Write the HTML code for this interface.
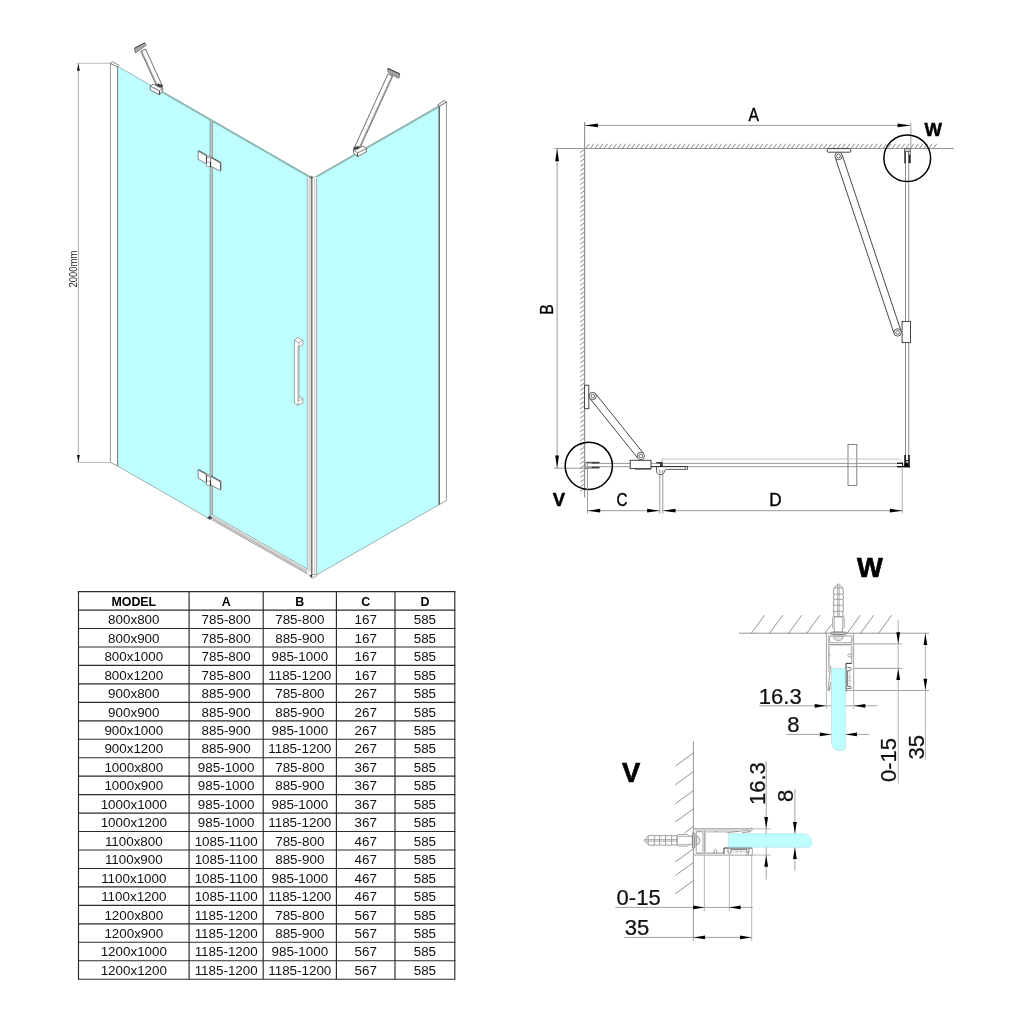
<!DOCTYPE html>
<html>
<head>
<meta charset="utf-8">
<title>Shower enclosure technical drawing</title>
<style>
html,body{margin:0;padding:0;background:#fff;}
body{width:1024px;height:1024px;overflow:hidden;font-family:"Liberation Sans",sans-serif;}
svg{display:block;will-change:transform;font-family:"Liberation Sans",sans-serif;}
</style>
</head>
<body>
<svg width="1024" height="1024" viewBox="0 0 1024 1024">
<rect x="0" y="0" width="1024" height="1024" fill="#ffffff"/>
<g id="iso">
<line x1="76.50" y1="63.30" x2="110.40" y2="63.30" stroke="#bcbcbc" stroke-width="1.1" />
<line x1="76.50" y1="462.50" x2="110.40" y2="462.50" stroke="#bcbcbc" stroke-width="1.1" />
<line x1="78.40" y1="63.30" x2="78.40" y2="462.50" stroke="#b4b4b4" stroke-width="1.1" />
<polygon points="78.40,63.60 79.85,70.80 76.95,70.80" fill="#111" stroke="none" stroke-width="0" />
<polygon points="78.40,462.20 76.95,455.00 79.85,455.00" fill="#111" stroke="none" stroke-width="0" />
<text x="0.00" y="0.00" font-size="10.9" font-weight="normal" text-anchor="start" fill="#222" transform="translate(76.80 287.40) rotate(-90) scale(0.865 1)" >2000mm</text>
<polygon points="110.40,63.40 117.60,66.90 117.60,466.00 110.40,462.50" fill="#fff" stroke="#8c8c8c" stroke-width="0.9" />
<polygon points="110.40,63.40 112.40,61.60 118.80,65.30 117.60,66.90" fill="#fff" stroke="#6a6a6a" stroke-width="0.8" />
<polygon points="117.60,66.30 307.20,175.40 307.20,569.00 211.60,514.63 211.60,520.09 117.60,466.00" fill="#bffefe" stroke="none" stroke-width="0" />
<polygon points="316.60,176.60 439.30,106.20 439.30,504.50 316.60,574.90" fill="#bffefe" stroke="none" stroke-width="0" />
<line x1="117.60" y1="66.30" x2="117.60" y2="466.00" stroke="#6f8d8d" stroke-width="1.1" />
<line x1="117.60" y1="66.30" x2="151.00" y2="85.52" stroke="#8fa5a5" stroke-width="0.8" />
<line x1="162.00" y1="92.05" x2="310.20" y2="177.32" stroke="#92c2be" stroke-width="1.9" />
<line x1="162.00" y1="91.25" x2="310.20" y2="176.52" stroke="#8a9c9c" stroke-width="0.6" />
<line x1="313.60" y1="178.52" x2="439.30" y2="106.40" stroke="#92c2be" stroke-width="1.9" />
<line x1="313.60" y1="177.72" x2="439.30" y2="105.60" stroke="#8a9c9c" stroke-width="0.6" />
<line x1="117.60" y1="466.00" x2="209.90" y2="519.11" stroke="#8aa0a0" stroke-width="0.8" />
<line x1="316.60" y1="574.90" x2="439.30" y2="504.50" stroke="#8aa0a0" stroke-width="0.8" />
<line x1="439.30" y1="106.20" x2="439.30" y2="504.50" stroke="#5f6c6c" stroke-width="1.0" />
<rect x="209.90" y="120.16" width="2.70" height="395.44" fill="#c4cccc" stroke="none" stroke-width="0" />
<line x1="210.10" y1="119.52" x2="210.10" y2="517.00" stroke="#7f9393" stroke-width="0.8" />
<line x1="212.40" y1="120.85" x2="212.40" y2="515.40" stroke="#7f9393" stroke-width="0.8" />
<polygon points="211.60,514.63 307.60,569.23 310.60,575.83 211.60,519.53" fill="#fff" stroke="none" stroke-width="0" />
<line x1="211.60" y1="514.63" x2="307.60" y2="569.23" stroke="#6f8f8f" stroke-width="0.8" />
<line x1="211.60" y1="515.53" x2="308.09" y2="570.41" stroke="#ececec" stroke-width="1.0" />
<line x1="211.60" y1="516.43" x2="308.59" y2="571.59" stroke="#a8a8a8" stroke-width="0.8" />
<line x1="211.60" y1="517.23" x2="309.03" y2="572.64" stroke="#e0e0e0" stroke-width="0.8" />
<line x1="211.60" y1="518.03" x2="309.47" y2="573.69" stroke="#8a8a8a" stroke-width="0.9" />
<line x1="211.60" y1="518.83" x2="309.91" y2="574.74" stroke="#d8d8d8" stroke-width="0.7" />
<line x1="211.60" y1="519.53" x2="310.29" y2="575.66" stroke="#8a8a8a" stroke-width="0.8" />
<polygon points="207.40,517.60 209.60,516.00 211.80,517.20 211.60,518.60 209.40,519.60" fill="#444" stroke="#666" stroke-width="0.5" />
<rect x="307.20" y="177.30" width="9.60" height="397.30" fill="#fff" stroke="none" stroke-width="0" />
<rect x="307.20" y="177.30" width="3.90" height="394.20" fill="#dedede" stroke="none" stroke-width="0" />
<line x1="307.20" y1="177.30" x2="307.20" y2="569.50" stroke="#a8a8a8" stroke-width="0.7" />
<line x1="311.75" y1="177.30" x2="311.75" y2="576.00" stroke="#787878" stroke-width="1.6" />
<line x1="314.60" y1="177.80" x2="314.60" y2="575.40" stroke="#c4c4c4" stroke-width="0.9" />
<line x1="316.60" y1="178.30" x2="316.60" y2="574.20" stroke="#8fa0a0" stroke-width="0.9" />
<polygon points="309.60,177.20 311.40,176.20 313.20,177.20 311.40,178.40" fill="#666" stroke="#555" stroke-width="0.5" />
<polygon points="309.90,576.00 312.20,574.60 317.00,574.40 317.00,575.60 312.20,578.80" fill="#f4f4f4" stroke="#777" stroke-width="0.6" />
<polygon points="309.90,575.40 311.80,574.60 312.60,576.60 311.00,577.40" fill="#333" stroke="none" stroke-width="0" />
<polygon points="439.30,106.20 446.40,102.00 446.40,500.60 439.30,504.50" fill="#fff" stroke="#8c8c8c" stroke-width="0.9" />
<polygon points="437.70,105.00 444.20,100.40 446.40,102.00 439.30,106.20" fill="#fff" stroke="#5f5f5f" stroke-width="0.85" />
<line x1="439.30" y1="106.20" x2="439.30" y2="504.50" stroke="#565e5e" stroke-width="1.1" />
<polygon points="198.20,151.20 206.40,155.90 206.40,164.00 198.20,159.30" fill="#fff" stroke="#6a6a6a" stroke-width="0.8" />
<polyline points="198.00,151.60 198.90,150.70 207.20,155.40" fill="none" stroke="#555" stroke-width="0.9" />
<polygon points="210.60,157.60 220.40,163.00 220.40,171.20 210.60,166.20" fill="#fff" stroke="#6a6a6a" stroke-width="0.8" />
<polyline points="210.80,157.00 220.80,162.40 220.80,170.40" fill="none" stroke="#555" stroke-width="1.0" />
<polygon points="206.40,156.60 210.40,157.80 210.40,166.90 206.40,166.20" fill="#fff" stroke="#777" stroke-width="0.7" />
<polygon points="206.40,156.40 207.80,155.40 211.60,156.90 210.40,157.90" fill="#e2e2e2" stroke="#777" stroke-width="0.6" />
<polyline points="206.40,162.20 210.40,162.40" fill="none" stroke="#888" stroke-width="0.6" />
<polyline points="206.50,156.40 206.50,163.00" fill="none" stroke="#444" stroke-width="1.0" />
<polyline points="210.50,161.60 210.50,167.00" fill="none" stroke="#333" stroke-width="1.1" />
<polygon points="198.20,470.00 206.40,474.70 206.40,482.80 198.20,478.10" fill="#fff" stroke="#6a6a6a" stroke-width="0.8" />
<polyline points="198.00,470.40 198.90,469.50 207.20,474.20" fill="none" stroke="#555" stroke-width="0.9" />
<polygon points="210.60,476.40 220.40,481.80 220.40,490.00 210.60,485.00" fill="#fff" stroke="#6a6a6a" stroke-width="0.8" />
<polyline points="210.80,475.80 220.80,481.20 220.80,489.20" fill="none" stroke="#555" stroke-width="1.0" />
<polygon points="206.40,475.40 210.40,476.60 210.40,485.70 206.40,485.00" fill="#fff" stroke="#777" stroke-width="0.7" />
<polygon points="206.40,475.20 207.80,474.20 211.60,475.70 210.40,476.70" fill="#e2e2e2" stroke="#777" stroke-width="0.6" />
<polyline points="206.40,481.00 210.40,481.20" fill="none" stroke="#888" stroke-width="0.6" />
<polyline points="206.50,475.20 206.50,481.80" fill="none" stroke="#444" stroke-width="1.0" />
<polyline points="210.50,480.40 210.50,485.80" fill="none" stroke="#333" stroke-width="1.1" />
<polygon points="294.40,340.30 297.60,337.60 302.90,340.20 302.90,344.80 299.00,346.70 299.00,396.80 302.90,398.40 302.90,402.60 298.00,405.30 294.40,403.00" fill="#fff" stroke="#8a8a8a" stroke-width="0.8" />
<polyline points="294.40,340.30 299.00,342.60 302.90,340.20" fill="none" stroke="#8a8a8a" stroke-width="0.7" />
<line x1="299.00" y1="342.60" x2="299.00" y2="346.70" stroke="#8a8a8a" stroke-width="0.7" />
<line x1="298.00" y1="346.00" x2="298.00" y2="405.30" stroke="#9a9a9a" stroke-width="0.8" />
<line x1="299.00" y1="396.80" x2="299.00" y2="401.00" stroke="#8a8a8a" stroke-width="0.6" />
<polyline points="299.00,401.00 302.90,398.90" fill="none" stroke="#8a8a8a" stroke-width="0.6" />
<polygon points="161.97,85.12 145.57,49.12 140.83,51.28 157.23,87.28" fill="#fff" stroke="#4a4a4a" stroke-width="0.8" />
<line x1="158.05" y1="86.90" x2="141.65" y2="50.90" stroke="#7a7a7a" stroke-width="0.7" />
<polygon points="134.40,48.30 144.80,42.90 146.00,45.40 135.40,52.80" fill="#c2c2c2" stroke="#666" stroke-width="0.8" />
<line x1="134.80" y1="48.60" x2="135.60" y2="52.20" stroke="#5a5a5a" stroke-width="0.55" />
<line x1="136.80" y1="47.55" x2="137.60" y2="50.85" stroke="#5a5a5a" stroke-width="0.55" />
<line x1="138.80" y1="46.50" x2="139.60" y2="49.50" stroke="#5a5a5a" stroke-width="0.55" />
<line x1="140.80" y1="45.45" x2="141.60" y2="48.15" stroke="#5a5a5a" stroke-width="0.55" />
<line x1="142.80" y1="44.40" x2="143.60" y2="46.80" stroke="#5a5a5a" stroke-width="0.55" />
<line x1="144.80" y1="43.35" x2="145.60" y2="45.45" stroke="#5a5a5a" stroke-width="0.55" />
<line x1="134.40" y1="48.30" x2="144.80" y2="42.90" stroke="#333" stroke-width="0.9" />
<polygon points="150.25,85.90 153.00,84.10 162.70,88.70 162.70,90.60 159.50,94.80 150.25,90.00" fill="#fff" stroke="#555" stroke-width="0.8" />
<polyline points="150.25,85.90 159.50,90.70 162.70,88.70" fill="none" stroke="#555" stroke-width="0.75" />
<line x1="159.50" y1="90.70" x2="159.50" y2="94.80" stroke="#444" stroke-width="1.0" />
<line x1="151.60" y1="87.50" x2="158.90" y2="91.30" stroke="#999" stroke-width="0.5" />
<polygon points="156.20,84.30 158.40,83.70 162.80,85.20 162.60,87.60 158.00,86.40" fill="#444" stroke="#444" stroke-width="0.4" />
<polygon points="359.37,149.28 392.77,76.08 388.03,73.92 354.63,147.12" fill="#fff" stroke="#4a4a4a" stroke-width="0.8" />
<line x1="358.55" y1="148.91" x2="391.95" y2="75.71" stroke="#7a7a7a" stroke-width="0.7" />
<polygon points="387.80,68.30 399.60,73.80 399.40,77.00 398.00,78.20 388.20,72.20" fill="#c2c2c2" stroke="#666" stroke-width="0.8" />
<line x1="388.60" y1="68.90" x2="388.90" y2="72.40" stroke="#5a5a5a" stroke-width="0.55" />
<line x1="390.60" y1="69.85" x2="390.90" y2="73.60" stroke="#5a5a5a" stroke-width="0.55" />
<line x1="392.60" y1="70.80" x2="392.90" y2="74.80" stroke="#5a5a5a" stroke-width="0.55" />
<line x1="394.60" y1="71.75" x2="394.90" y2="76.00" stroke="#5a5a5a" stroke-width="0.55" />
<line x1="396.60" y1="72.70" x2="396.90" y2="77.20" stroke="#5a5a5a" stroke-width="0.55" />
<line x1="398.60" y1="73.65" x2="398.90" y2="78.40" stroke="#5a5a5a" stroke-width="0.55" />
<line x1="387.80" y1="68.30" x2="399.60" y2="73.80" stroke="#333" stroke-width="0.9" />
<polygon points="353.50,150.00 362.80,146.10 366.40,148.50 366.40,151.70 357.60,156.70 353.50,152.80" fill="#fff" stroke="#555" stroke-width="0.8" />
<polyline points="353.50,150.00 357.60,152.80 366.40,148.50" fill="none" stroke="#555" stroke-width="0.75" />
<line x1="357.40" y1="152.80" x2="357.40" y2="156.70" stroke="#444" stroke-width="1.0" />
<line x1="358.40" y1="152.90" x2="365.60" y2="149.50" stroke="#999" stroke-width="0.5" />
<polygon points="353.50,147.60 358.20,146.20 359.90,147.20 358.20,148.90 353.70,149.80" fill="#444" stroke="#444" stroke-width="0.4" />
</g>
<g id="tbl">
<line x1="77.95" y1="591.60" x2="455.35" y2="591.60" stroke="#2b2b2b" stroke-width="1.15" />
<line x1="77.95" y1="610.06" x2="455.35" y2="610.06" stroke="#2b2b2b" stroke-width="1.15" />
<line x1="77.95" y1="628.51" x2="455.35" y2="628.51" stroke="#2b2b2b" stroke-width="1.15" />
<line x1="77.95" y1="646.97" x2="455.35" y2="646.97" stroke="#2b2b2b" stroke-width="1.15" />
<line x1="77.95" y1="665.43" x2="455.35" y2="665.43" stroke="#2b2b2b" stroke-width="1.15" />
<line x1="77.95" y1="683.89" x2="455.35" y2="683.89" stroke="#2b2b2b" stroke-width="1.15" />
<line x1="77.95" y1="702.34" x2="455.35" y2="702.34" stroke="#2b2b2b" stroke-width="1.15" />
<line x1="77.95" y1="720.80" x2="455.35" y2="720.80" stroke="#2b2b2b" stroke-width="1.15" />
<line x1="77.95" y1="739.26" x2="455.35" y2="739.26" stroke="#2b2b2b" stroke-width="1.15" />
<line x1="77.95" y1="757.71" x2="455.35" y2="757.71" stroke="#2b2b2b" stroke-width="1.15" />
<line x1="77.95" y1="776.17" x2="455.35" y2="776.17" stroke="#2b2b2b" stroke-width="1.15" />
<line x1="77.95" y1="794.63" x2="455.35" y2="794.63" stroke="#2b2b2b" stroke-width="1.15" />
<line x1="77.95" y1="813.09" x2="455.35" y2="813.09" stroke="#2b2b2b" stroke-width="1.15" />
<line x1="77.95" y1="831.54" x2="455.35" y2="831.54" stroke="#2b2b2b" stroke-width="1.15" />
<line x1="77.95" y1="850.00" x2="455.35" y2="850.00" stroke="#2b2b2b" stroke-width="1.15" />
<line x1="77.95" y1="868.46" x2="455.35" y2="868.46" stroke="#2b2b2b" stroke-width="1.15" />
<line x1="77.95" y1="886.91" x2="455.35" y2="886.91" stroke="#2b2b2b" stroke-width="1.15" />
<line x1="77.95" y1="905.37" x2="455.35" y2="905.37" stroke="#2b2b2b" stroke-width="1.15" />
<line x1="77.95" y1="923.83" x2="455.35" y2="923.83" stroke="#2b2b2b" stroke-width="1.15" />
<line x1="77.95" y1="942.29" x2="455.35" y2="942.29" stroke="#2b2b2b" stroke-width="1.15" />
<line x1="77.95" y1="960.74" x2="455.35" y2="960.74" stroke="#2b2b2b" stroke-width="1.15" />
<line x1="77.95" y1="979.20" x2="455.35" y2="979.20" stroke="#2b2b2b" stroke-width="1.15" />
<line x1="78.50" y1="591.60" x2="78.50" y2="979.20" stroke="#2b2b2b" stroke-width="1.15" />
<line x1="189.10" y1="591.60" x2="189.10" y2="979.20" stroke="#2b2b2b" stroke-width="1.15" />
<line x1="263.20" y1="591.60" x2="263.20" y2="979.20" stroke="#2b2b2b" stroke-width="1.15" />
<line x1="336.40" y1="591.60" x2="336.40" y2="979.20" stroke="#2b2b2b" stroke-width="1.15" />
<line x1="395.00" y1="591.60" x2="395.00" y2="979.20" stroke="#2b2b2b" stroke-width="1.15" />
<line x1="454.80" y1="591.60" x2="454.80" y2="979.20" stroke="#2b2b2b" stroke-width="1.15" />
<text x="133.80" y="606.13" font-size="12.4" font-weight="bold" text-anchor="middle" fill="#000" >MODEL</text>
<text x="226.15" y="606.13" font-size="12.4" font-weight="bold" text-anchor="middle" fill="#000" >A</text>
<text x="299.80" y="606.13" font-size="12.4" font-weight="bold" text-anchor="middle" fill="#000" >B</text>
<text x="365.70" y="606.13" font-size="12.4" font-weight="bold" text-anchor="middle" fill="#000" >C</text>
<text x="424.90" y="606.13" font-size="12.4" font-weight="bold" text-anchor="middle" fill="#000" >D</text>
<text x="133.80" y="624.24" font-size="13.4" font-weight="normal" text-anchor="middle" fill="#111" >800x800</text>
<text x="226.15" y="624.24" font-size="13.4" font-weight="normal" text-anchor="middle" fill="#111" >785-800</text>
<text x="299.80" y="624.24" font-size="13.4" font-weight="normal" text-anchor="middle" fill="#111" >785-800</text>
<text x="365.70" y="624.24" font-size="13.4" font-weight="normal" text-anchor="middle" fill="#111" >167</text>
<text x="424.90" y="624.24" font-size="13.4" font-weight="normal" text-anchor="middle" fill="#111" >585</text>
<text x="133.80" y="642.69" font-size="13.4" font-weight="normal" text-anchor="middle" fill="#111" >800x900</text>
<text x="226.15" y="642.69" font-size="13.4" font-weight="normal" text-anchor="middle" fill="#111" >785-800</text>
<text x="299.80" y="642.69" font-size="13.4" font-weight="normal" text-anchor="middle" fill="#111" >885-900</text>
<text x="365.70" y="642.69" font-size="13.4" font-weight="normal" text-anchor="middle" fill="#111" >167</text>
<text x="424.90" y="642.69" font-size="13.4" font-weight="normal" text-anchor="middle" fill="#111" >585</text>
<text x="133.80" y="661.15" font-size="13.4" font-weight="normal" text-anchor="middle" fill="#111" >800x1000</text>
<text x="226.15" y="661.15" font-size="13.4" font-weight="normal" text-anchor="middle" fill="#111" >785-800</text>
<text x="299.80" y="661.15" font-size="13.4" font-weight="normal" text-anchor="middle" fill="#111" >985-1000</text>
<text x="365.70" y="661.15" font-size="13.4" font-weight="normal" text-anchor="middle" fill="#111" >167</text>
<text x="424.90" y="661.15" font-size="13.4" font-weight="normal" text-anchor="middle" fill="#111" >585</text>
<text x="133.80" y="679.61" font-size="13.4" font-weight="normal" text-anchor="middle" fill="#111" >800x1200</text>
<text x="226.15" y="679.61" font-size="13.4" font-weight="normal" text-anchor="middle" fill="#111" >785-800</text>
<text x="299.80" y="679.61" font-size="13.4" font-weight="normal" text-anchor="middle" fill="#111" >1185-1200</text>
<text x="365.70" y="679.61" font-size="13.4" font-weight="normal" text-anchor="middle" fill="#111" >167</text>
<text x="424.90" y="679.61" font-size="13.4" font-weight="normal" text-anchor="middle" fill="#111" >585</text>
<text x="133.80" y="698.06" font-size="13.4" font-weight="normal" text-anchor="middle" fill="#111" >900x800</text>
<text x="226.15" y="698.06" font-size="13.4" font-weight="normal" text-anchor="middle" fill="#111" >885-900</text>
<text x="299.80" y="698.06" font-size="13.4" font-weight="normal" text-anchor="middle" fill="#111" >785-800</text>
<text x="365.70" y="698.06" font-size="13.4" font-weight="normal" text-anchor="middle" fill="#111" >267</text>
<text x="424.90" y="698.06" font-size="13.4" font-weight="normal" text-anchor="middle" fill="#111" >585</text>
<text x="133.80" y="716.52" font-size="13.4" font-weight="normal" text-anchor="middle" fill="#111" >900x900</text>
<text x="226.15" y="716.52" font-size="13.4" font-weight="normal" text-anchor="middle" fill="#111" >885-900</text>
<text x="299.80" y="716.52" font-size="13.4" font-weight="normal" text-anchor="middle" fill="#111" >885-900</text>
<text x="365.70" y="716.52" font-size="13.4" font-weight="normal" text-anchor="middle" fill="#111" >267</text>
<text x="424.90" y="716.52" font-size="13.4" font-weight="normal" text-anchor="middle" fill="#111" >585</text>
<text x="133.80" y="734.98" font-size="13.4" font-weight="normal" text-anchor="middle" fill="#111" >900x1000</text>
<text x="226.15" y="734.98" font-size="13.4" font-weight="normal" text-anchor="middle" fill="#111" >885-900</text>
<text x="299.80" y="734.98" font-size="13.4" font-weight="normal" text-anchor="middle" fill="#111" >985-1000</text>
<text x="365.70" y="734.98" font-size="13.4" font-weight="normal" text-anchor="middle" fill="#111" >267</text>
<text x="424.90" y="734.98" font-size="13.4" font-weight="normal" text-anchor="middle" fill="#111" >585</text>
<text x="133.80" y="753.44" font-size="13.4" font-weight="normal" text-anchor="middle" fill="#111" >900x1200</text>
<text x="226.15" y="753.44" font-size="13.4" font-weight="normal" text-anchor="middle" fill="#111" >885-900</text>
<text x="299.80" y="753.44" font-size="13.4" font-weight="normal" text-anchor="middle" fill="#111" >1185-1200</text>
<text x="365.70" y="753.44" font-size="13.4" font-weight="normal" text-anchor="middle" fill="#111" >267</text>
<text x="424.90" y="753.44" font-size="13.4" font-weight="normal" text-anchor="middle" fill="#111" >585</text>
<text x="133.80" y="771.89" font-size="13.4" font-weight="normal" text-anchor="middle" fill="#111" >1000x800</text>
<text x="226.15" y="771.89" font-size="13.4" font-weight="normal" text-anchor="middle" fill="#111" >985-1000</text>
<text x="299.80" y="771.89" font-size="13.4" font-weight="normal" text-anchor="middle" fill="#111" >785-800</text>
<text x="365.70" y="771.89" font-size="13.4" font-weight="normal" text-anchor="middle" fill="#111" >367</text>
<text x="424.90" y="771.89" font-size="13.4" font-weight="normal" text-anchor="middle" fill="#111" >585</text>
<text x="133.80" y="790.35" font-size="13.4" font-weight="normal" text-anchor="middle" fill="#111" >1000x900</text>
<text x="226.15" y="790.35" font-size="13.4" font-weight="normal" text-anchor="middle" fill="#111" >985-1000</text>
<text x="299.80" y="790.35" font-size="13.4" font-weight="normal" text-anchor="middle" fill="#111" >885-900</text>
<text x="365.70" y="790.35" font-size="13.4" font-weight="normal" text-anchor="middle" fill="#111" >367</text>
<text x="424.90" y="790.35" font-size="13.4" font-weight="normal" text-anchor="middle" fill="#111" >585</text>
<text x="133.80" y="808.81" font-size="13.4" font-weight="normal" text-anchor="middle" fill="#111" >1000x1000</text>
<text x="226.15" y="808.81" font-size="13.4" font-weight="normal" text-anchor="middle" fill="#111" >985-1000</text>
<text x="299.80" y="808.81" font-size="13.4" font-weight="normal" text-anchor="middle" fill="#111" >985-1000</text>
<text x="365.70" y="808.81" font-size="13.4" font-weight="normal" text-anchor="middle" fill="#111" >367</text>
<text x="424.90" y="808.81" font-size="13.4" font-weight="normal" text-anchor="middle" fill="#111" >585</text>
<text x="133.80" y="827.26" font-size="13.4" font-weight="normal" text-anchor="middle" fill="#111" >1000x1200</text>
<text x="226.15" y="827.26" font-size="13.4" font-weight="normal" text-anchor="middle" fill="#111" >985-1000</text>
<text x="299.80" y="827.26" font-size="13.4" font-weight="normal" text-anchor="middle" fill="#111" >1185-1200</text>
<text x="365.70" y="827.26" font-size="13.4" font-weight="normal" text-anchor="middle" fill="#111" >367</text>
<text x="424.90" y="827.26" font-size="13.4" font-weight="normal" text-anchor="middle" fill="#111" >585</text>
<text x="133.80" y="845.72" font-size="13.4" font-weight="normal" text-anchor="middle" fill="#111" >1100x800</text>
<text x="226.15" y="845.72" font-size="13.4" font-weight="normal" text-anchor="middle" fill="#111" >1085-1100</text>
<text x="299.80" y="845.72" font-size="13.4" font-weight="normal" text-anchor="middle" fill="#111" >785-800</text>
<text x="365.70" y="845.72" font-size="13.4" font-weight="normal" text-anchor="middle" fill="#111" >467</text>
<text x="424.90" y="845.72" font-size="13.4" font-weight="normal" text-anchor="middle" fill="#111" >585</text>
<text x="133.80" y="864.18" font-size="13.4" font-weight="normal" text-anchor="middle" fill="#111" >1100x900</text>
<text x="226.15" y="864.18" font-size="13.4" font-weight="normal" text-anchor="middle" fill="#111" >1085-1100</text>
<text x="299.80" y="864.18" font-size="13.4" font-weight="normal" text-anchor="middle" fill="#111" >885-900</text>
<text x="365.70" y="864.18" font-size="13.4" font-weight="normal" text-anchor="middle" fill="#111" >467</text>
<text x="424.90" y="864.18" font-size="13.4" font-weight="normal" text-anchor="middle" fill="#111" >585</text>
<text x="133.80" y="882.64" font-size="13.4" font-weight="normal" text-anchor="middle" fill="#111" >1100x1000</text>
<text x="226.15" y="882.64" font-size="13.4" font-weight="normal" text-anchor="middle" fill="#111" >1085-1100</text>
<text x="299.80" y="882.64" font-size="13.4" font-weight="normal" text-anchor="middle" fill="#111" >985-1000</text>
<text x="365.70" y="882.64" font-size="13.4" font-weight="normal" text-anchor="middle" fill="#111" >467</text>
<text x="424.90" y="882.64" font-size="13.4" font-weight="normal" text-anchor="middle" fill="#111" >585</text>
<text x="133.80" y="901.09" font-size="13.4" font-weight="normal" text-anchor="middle" fill="#111" >1100x1200</text>
<text x="226.15" y="901.09" font-size="13.4" font-weight="normal" text-anchor="middle" fill="#111" >1085-1100</text>
<text x="299.80" y="901.09" font-size="13.4" font-weight="normal" text-anchor="middle" fill="#111" >1185-1200</text>
<text x="365.70" y="901.09" font-size="13.4" font-weight="normal" text-anchor="middle" fill="#111" >467</text>
<text x="424.90" y="901.09" font-size="13.4" font-weight="normal" text-anchor="middle" fill="#111" >585</text>
<text x="133.80" y="919.55" font-size="13.4" font-weight="normal" text-anchor="middle" fill="#111" >1200x800</text>
<text x="226.15" y="919.55" font-size="13.4" font-weight="normal" text-anchor="middle" fill="#111" >1185-1200</text>
<text x="299.80" y="919.55" font-size="13.4" font-weight="normal" text-anchor="middle" fill="#111" >785-800</text>
<text x="365.70" y="919.55" font-size="13.4" font-weight="normal" text-anchor="middle" fill="#111" >567</text>
<text x="424.90" y="919.55" font-size="13.4" font-weight="normal" text-anchor="middle" fill="#111" >585</text>
<text x="133.80" y="938.01" font-size="13.4" font-weight="normal" text-anchor="middle" fill="#111" >1200x900</text>
<text x="226.15" y="938.01" font-size="13.4" font-weight="normal" text-anchor="middle" fill="#111" >1185-1200</text>
<text x="299.80" y="938.01" font-size="13.4" font-weight="normal" text-anchor="middle" fill="#111" >885-900</text>
<text x="365.70" y="938.01" font-size="13.4" font-weight="normal" text-anchor="middle" fill="#111" >567</text>
<text x="424.90" y="938.01" font-size="13.4" font-weight="normal" text-anchor="middle" fill="#111" >585</text>
<text x="133.80" y="956.46" font-size="13.4" font-weight="normal" text-anchor="middle" fill="#111" >1200x1000</text>
<text x="226.15" y="956.46" font-size="13.4" font-weight="normal" text-anchor="middle" fill="#111" >1185-1200</text>
<text x="299.80" y="956.46" font-size="13.4" font-weight="normal" text-anchor="middle" fill="#111" >985-1000</text>
<text x="365.70" y="956.46" font-size="13.4" font-weight="normal" text-anchor="middle" fill="#111" >567</text>
<text x="424.90" y="956.46" font-size="13.4" font-weight="normal" text-anchor="middle" fill="#111" >585</text>
<text x="133.80" y="974.92" font-size="13.4" font-weight="normal" text-anchor="middle" fill="#111" >1200x1200</text>
<text x="226.15" y="974.92" font-size="13.4" font-weight="normal" text-anchor="middle" fill="#111" >1185-1200</text>
<text x="299.80" y="974.92" font-size="13.4" font-weight="normal" text-anchor="middle" fill="#111" >1185-1200</text>
<text x="365.70" y="974.92" font-size="13.4" font-weight="normal" text-anchor="middle" fill="#111" >567</text>
<text x="424.90" y="974.92" font-size="13.4" font-weight="normal" text-anchor="middle" fill="#111" >585</text>
</g>
<g id="plan">
<line x1="554.50" y1="148.50" x2="954.00" y2="148.50" stroke="#969696" stroke-width="1.1" />
<line x1="584.60" y1="122.00" x2="584.60" y2="497.50" stroke="#969696" stroke-width="1.2" />
<line x1="585.80" y1="148.50" x2="589.30" y2="143.80" stroke="#747474" stroke-width="0.85" />
<line x1="590.37" y1="148.50" x2="593.87" y2="143.80" stroke="#747474" stroke-width="0.85" />
<line x1="594.94" y1="148.50" x2="598.44" y2="143.80" stroke="#747474" stroke-width="0.85" />
<line x1="599.52" y1="148.50" x2="603.02" y2="143.80" stroke="#747474" stroke-width="0.85" />
<line x1="604.09" y1="148.50" x2="607.59" y2="143.80" stroke="#747474" stroke-width="0.85" />
<line x1="608.66" y1="148.50" x2="612.16" y2="143.80" stroke="#747474" stroke-width="0.85" />
<line x1="613.23" y1="148.50" x2="616.73" y2="143.80" stroke="#747474" stroke-width="0.85" />
<line x1="617.80" y1="148.50" x2="621.30" y2="143.80" stroke="#747474" stroke-width="0.85" />
<line x1="622.38" y1="148.50" x2="625.88" y2="143.80" stroke="#747474" stroke-width="0.85" />
<line x1="626.95" y1="148.50" x2="630.45" y2="143.80" stroke="#747474" stroke-width="0.85" />
<line x1="631.52" y1="148.50" x2="635.02" y2="143.80" stroke="#747474" stroke-width="0.85" />
<line x1="636.09" y1="148.50" x2="639.59" y2="143.80" stroke="#747474" stroke-width="0.85" />
<line x1="640.66" y1="148.50" x2="644.16" y2="143.80" stroke="#747474" stroke-width="0.85" />
<line x1="645.24" y1="148.50" x2="648.74" y2="143.80" stroke="#747474" stroke-width="0.85" />
<line x1="649.81" y1="148.50" x2="653.31" y2="143.80" stroke="#747474" stroke-width="0.85" />
<line x1="654.38" y1="148.50" x2="657.88" y2="143.80" stroke="#747474" stroke-width="0.85" />
<line x1="658.95" y1="148.50" x2="662.45" y2="143.80" stroke="#747474" stroke-width="0.85" />
<line x1="663.52" y1="148.50" x2="667.02" y2="143.80" stroke="#747474" stroke-width="0.85" />
<line x1="668.10" y1="148.50" x2="671.60" y2="143.80" stroke="#747474" stroke-width="0.85" />
<line x1="672.67" y1="148.50" x2="676.17" y2="143.80" stroke="#747474" stroke-width="0.85" />
<line x1="677.24" y1="148.50" x2="680.74" y2="143.80" stroke="#747474" stroke-width="0.85" />
<line x1="681.81" y1="148.50" x2="685.31" y2="143.80" stroke="#747474" stroke-width="0.85" />
<line x1="686.38" y1="148.50" x2="689.88" y2="143.80" stroke="#747474" stroke-width="0.85" />
<line x1="690.96" y1="148.50" x2="694.46" y2="143.80" stroke="#747474" stroke-width="0.85" />
<line x1="695.53" y1="148.50" x2="699.03" y2="143.80" stroke="#747474" stroke-width="0.85" />
<line x1="700.10" y1="148.50" x2="703.60" y2="143.80" stroke="#747474" stroke-width="0.85" />
<line x1="704.67" y1="148.50" x2="708.17" y2="143.80" stroke="#747474" stroke-width="0.85" />
<line x1="709.24" y1="148.50" x2="712.74" y2="143.80" stroke="#747474" stroke-width="0.85" />
<line x1="713.82" y1="148.50" x2="717.32" y2="143.80" stroke="#747474" stroke-width="0.85" />
<line x1="718.39" y1="148.50" x2="721.89" y2="143.80" stroke="#747474" stroke-width="0.85" />
<line x1="722.96" y1="148.50" x2="726.46" y2="143.80" stroke="#747474" stroke-width="0.85" />
<line x1="727.53" y1="148.50" x2="731.03" y2="143.80" stroke="#747474" stroke-width="0.85" />
<line x1="732.10" y1="148.50" x2="735.60" y2="143.80" stroke="#747474" stroke-width="0.85" />
<line x1="736.68" y1="148.50" x2="740.18" y2="143.80" stroke="#747474" stroke-width="0.85" />
<line x1="741.25" y1="148.50" x2="744.75" y2="143.80" stroke="#747474" stroke-width="0.85" />
<line x1="745.82" y1="148.50" x2="749.32" y2="143.80" stroke="#747474" stroke-width="0.85" />
<line x1="750.39" y1="148.50" x2="753.89" y2="143.80" stroke="#747474" stroke-width="0.85" />
<line x1="754.96" y1="148.50" x2="758.46" y2="143.80" stroke="#747474" stroke-width="0.85" />
<line x1="759.54" y1="148.50" x2="763.04" y2="143.80" stroke="#747474" stroke-width="0.85" />
<line x1="764.11" y1="148.50" x2="767.61" y2="143.80" stroke="#747474" stroke-width="0.85" />
<line x1="768.68" y1="148.50" x2="772.18" y2="143.80" stroke="#747474" stroke-width="0.85" />
<line x1="773.25" y1="148.50" x2="776.75" y2="143.80" stroke="#747474" stroke-width="0.85" />
<line x1="777.82" y1="148.50" x2="781.32" y2="143.80" stroke="#747474" stroke-width="0.85" />
<line x1="782.40" y1="148.50" x2="785.90" y2="143.80" stroke="#747474" stroke-width="0.85" />
<line x1="786.97" y1="148.50" x2="790.47" y2="143.80" stroke="#747474" stroke-width="0.85" />
<line x1="791.54" y1="148.50" x2="795.04" y2="143.80" stroke="#747474" stroke-width="0.85" />
<line x1="796.11" y1="148.50" x2="799.61" y2="143.80" stroke="#747474" stroke-width="0.85" />
<line x1="800.68" y1="148.50" x2="804.18" y2="143.80" stroke="#747474" stroke-width="0.85" />
<line x1="805.26" y1="148.50" x2="808.76" y2="143.80" stroke="#747474" stroke-width="0.85" />
<line x1="809.83" y1="148.50" x2="813.33" y2="143.80" stroke="#747474" stroke-width="0.85" />
<line x1="814.40" y1="148.50" x2="817.90" y2="143.80" stroke="#747474" stroke-width="0.85" />
<line x1="818.97" y1="148.50" x2="822.47" y2="143.80" stroke="#747474" stroke-width="0.85" />
<line x1="823.54" y1="148.50" x2="827.04" y2="143.80" stroke="#747474" stroke-width="0.85" />
<line x1="828.12" y1="148.50" x2="831.62" y2="143.80" stroke="#747474" stroke-width="0.85" />
<line x1="832.69" y1="148.50" x2="836.19" y2="143.80" stroke="#747474" stroke-width="0.85" />
<line x1="837.26" y1="148.50" x2="840.76" y2="143.80" stroke="#747474" stroke-width="0.85" />
<line x1="841.83" y1="148.50" x2="845.33" y2="143.80" stroke="#747474" stroke-width="0.85" />
<line x1="846.40" y1="148.50" x2="849.90" y2="143.80" stroke="#747474" stroke-width="0.85" />
<line x1="850.98" y1="148.50" x2="854.48" y2="143.80" stroke="#747474" stroke-width="0.85" />
<line x1="855.55" y1="148.50" x2="859.05" y2="143.80" stroke="#747474" stroke-width="0.85" />
<line x1="860.12" y1="148.50" x2="863.62" y2="143.80" stroke="#747474" stroke-width="0.85" />
<line x1="864.69" y1="148.50" x2="868.19" y2="143.80" stroke="#747474" stroke-width="0.85" />
<line x1="869.26" y1="148.50" x2="872.76" y2="143.80" stroke="#747474" stroke-width="0.85" />
<line x1="873.84" y1="148.50" x2="877.34" y2="143.80" stroke="#747474" stroke-width="0.85" />
<line x1="878.41" y1="148.50" x2="881.91" y2="143.80" stroke="#747474" stroke-width="0.85" />
<line x1="882.98" y1="148.50" x2="886.48" y2="143.80" stroke="#747474" stroke-width="0.85" />
<line x1="887.55" y1="148.50" x2="891.05" y2="143.80" stroke="#747474" stroke-width="0.85" />
<line x1="892.12" y1="148.50" x2="895.62" y2="143.80" stroke="#747474" stroke-width="0.85" />
<line x1="896.70" y1="148.50" x2="900.20" y2="143.80" stroke="#747474" stroke-width="0.85" />
<line x1="901.27" y1="148.50" x2="904.77" y2="143.80" stroke="#747474" stroke-width="0.85" />
<line x1="905.84" y1="148.50" x2="909.34" y2="143.80" stroke="#747474" stroke-width="0.85" />
<line x1="910.41" y1="148.50" x2="913.91" y2="143.80" stroke="#747474" stroke-width="0.85" />
<line x1="914.98" y1="148.50" x2="918.48" y2="143.80" stroke="#747474" stroke-width="0.85" />
<line x1="919.56" y1="148.50" x2="923.06" y2="143.80" stroke="#747474" stroke-width="0.85" />
<line x1="924.13" y1="148.50" x2="927.63" y2="143.80" stroke="#747474" stroke-width="0.85" />
<line x1="928.70" y1="148.50" x2="932.20" y2="143.80" stroke="#747474" stroke-width="0.85" />
<line x1="933.27" y1="148.50" x2="936.77" y2="143.80" stroke="#747474" stroke-width="0.85" />
<line x1="584.60" y1="149.60" x2="580.20" y2="152.50" stroke="#747474" stroke-width="0.85" />
<line x1="584.60" y1="154.18" x2="580.20" y2="157.08" stroke="#747474" stroke-width="0.85" />
<line x1="584.60" y1="158.75" x2="580.20" y2="161.65" stroke="#747474" stroke-width="0.85" />
<line x1="584.60" y1="163.33" x2="580.20" y2="166.23" stroke="#747474" stroke-width="0.85" />
<line x1="584.60" y1="167.90" x2="580.20" y2="170.80" stroke="#747474" stroke-width="0.85" />
<line x1="584.60" y1="172.48" x2="580.20" y2="175.38" stroke="#747474" stroke-width="0.85" />
<line x1="584.60" y1="177.06" x2="580.20" y2="179.96" stroke="#747474" stroke-width="0.85" />
<line x1="584.60" y1="181.63" x2="580.20" y2="184.53" stroke="#747474" stroke-width="0.85" />
<line x1="584.60" y1="186.21" x2="580.20" y2="189.11" stroke="#747474" stroke-width="0.85" />
<line x1="584.60" y1="190.78" x2="580.20" y2="193.68" stroke="#747474" stroke-width="0.85" />
<line x1="584.60" y1="195.36" x2="580.20" y2="198.26" stroke="#747474" stroke-width="0.85" />
<line x1="584.60" y1="199.94" x2="580.20" y2="202.84" stroke="#747474" stroke-width="0.85" />
<line x1="584.60" y1="204.51" x2="580.20" y2="207.41" stroke="#747474" stroke-width="0.85" />
<line x1="584.60" y1="209.09" x2="580.20" y2="211.99" stroke="#747474" stroke-width="0.85" />
<line x1="584.60" y1="213.66" x2="580.20" y2="216.56" stroke="#747474" stroke-width="0.85" />
<line x1="584.60" y1="218.24" x2="580.20" y2="221.14" stroke="#747474" stroke-width="0.85" />
<line x1="584.60" y1="222.82" x2="580.20" y2="225.72" stroke="#747474" stroke-width="0.85" />
<line x1="584.60" y1="227.39" x2="580.20" y2="230.29" stroke="#747474" stroke-width="0.85" />
<line x1="584.60" y1="231.97" x2="580.20" y2="234.87" stroke="#747474" stroke-width="0.85" />
<line x1="584.60" y1="236.54" x2="580.20" y2="239.44" stroke="#747474" stroke-width="0.85" />
<line x1="584.60" y1="241.12" x2="580.20" y2="244.02" stroke="#747474" stroke-width="0.85" />
<line x1="584.60" y1="245.70" x2="580.20" y2="248.60" stroke="#747474" stroke-width="0.85" />
<line x1="584.60" y1="250.27" x2="580.20" y2="253.17" stroke="#747474" stroke-width="0.85" />
<line x1="584.60" y1="254.85" x2="580.20" y2="257.75" stroke="#747474" stroke-width="0.85" />
<line x1="584.60" y1="259.42" x2="580.20" y2="262.32" stroke="#747474" stroke-width="0.85" />
<line x1="584.60" y1="264.00" x2="580.20" y2="266.90" stroke="#747474" stroke-width="0.85" />
<line x1="584.60" y1="268.58" x2="580.20" y2="271.48" stroke="#747474" stroke-width="0.85" />
<line x1="584.60" y1="273.15" x2="580.20" y2="276.05" stroke="#747474" stroke-width="0.85" />
<line x1="584.60" y1="277.73" x2="580.20" y2="280.63" stroke="#747474" stroke-width="0.85" />
<line x1="584.60" y1="282.30" x2="580.20" y2="285.20" stroke="#747474" stroke-width="0.85" />
<line x1="584.60" y1="286.88" x2="580.20" y2="289.78" stroke="#747474" stroke-width="0.85" />
<line x1="584.60" y1="291.46" x2="580.20" y2="294.36" stroke="#747474" stroke-width="0.85" />
<line x1="584.60" y1="296.03" x2="580.20" y2="298.93" stroke="#747474" stroke-width="0.85" />
<line x1="584.60" y1="300.61" x2="580.20" y2="303.51" stroke="#747474" stroke-width="0.85" />
<line x1="584.60" y1="305.18" x2="580.20" y2="308.08" stroke="#747474" stroke-width="0.85" />
<line x1="584.60" y1="309.76" x2="580.20" y2="312.66" stroke="#747474" stroke-width="0.85" />
<line x1="584.60" y1="314.34" x2="580.20" y2="317.24" stroke="#747474" stroke-width="0.85" />
<line x1="584.60" y1="318.91" x2="580.20" y2="321.81" stroke="#747474" stroke-width="0.85" />
<line x1="584.60" y1="323.49" x2="580.20" y2="326.39" stroke="#747474" stroke-width="0.85" />
<line x1="584.60" y1="328.06" x2="580.20" y2="330.96" stroke="#747474" stroke-width="0.85" />
<line x1="584.60" y1="332.64" x2="580.20" y2="335.54" stroke="#747474" stroke-width="0.85" />
<line x1="584.60" y1="337.22" x2="580.20" y2="340.12" stroke="#747474" stroke-width="0.85" />
<line x1="584.60" y1="341.79" x2="580.20" y2="344.69" stroke="#747474" stroke-width="0.85" />
<line x1="584.60" y1="346.37" x2="580.20" y2="349.27" stroke="#747474" stroke-width="0.85" />
<line x1="584.60" y1="350.94" x2="580.20" y2="353.84" stroke="#747474" stroke-width="0.85" />
<line x1="584.60" y1="355.52" x2="580.20" y2="358.42" stroke="#747474" stroke-width="0.85" />
<line x1="584.60" y1="360.10" x2="580.20" y2="363.00" stroke="#747474" stroke-width="0.85" />
<line x1="584.60" y1="364.67" x2="580.20" y2="367.57" stroke="#747474" stroke-width="0.85" />
<line x1="584.60" y1="369.25" x2="580.20" y2="372.15" stroke="#747474" stroke-width="0.85" />
<line x1="584.60" y1="373.82" x2="580.20" y2="376.72" stroke="#747474" stroke-width="0.85" />
<line x1="584.60" y1="378.40" x2="580.20" y2="381.30" stroke="#747474" stroke-width="0.85" />
<line x1="584.60" y1="382.98" x2="580.20" y2="385.88" stroke="#747474" stroke-width="0.85" />
<line x1="584.60" y1="387.55" x2="580.20" y2="390.45" stroke="#747474" stroke-width="0.85" />
<line x1="584.60" y1="392.13" x2="580.20" y2="395.03" stroke="#747474" stroke-width="0.85" />
<line x1="584.60" y1="396.70" x2="580.20" y2="399.60" stroke="#747474" stroke-width="0.85" />
<line x1="584.60" y1="401.28" x2="580.20" y2="404.18" stroke="#747474" stroke-width="0.85" />
<line x1="584.60" y1="405.86" x2="580.20" y2="408.76" stroke="#747474" stroke-width="0.85" />
<line x1="584.60" y1="410.43" x2="580.20" y2="413.33" stroke="#747474" stroke-width="0.85" />
<line x1="584.60" y1="415.01" x2="580.20" y2="417.91" stroke="#747474" stroke-width="0.85" />
<line x1="584.60" y1="419.58" x2="580.20" y2="422.48" stroke="#747474" stroke-width="0.85" />
<line x1="584.60" y1="424.16" x2="580.20" y2="427.06" stroke="#747474" stroke-width="0.85" />
<line x1="584.60" y1="428.74" x2="580.20" y2="431.64" stroke="#747474" stroke-width="0.85" />
<line x1="584.60" y1="433.31" x2="580.20" y2="436.21" stroke="#747474" stroke-width="0.85" />
<line x1="584.60" y1="437.89" x2="580.20" y2="440.79" stroke="#747474" stroke-width="0.85" />
<line x1="584.60" y1="442.46" x2="580.20" y2="445.36" stroke="#747474" stroke-width="0.85" />
<line x1="584.60" y1="447.04" x2="580.20" y2="449.94" stroke="#747474" stroke-width="0.85" />
<line x1="584.60" y1="451.62" x2="580.20" y2="454.52" stroke="#747474" stroke-width="0.85" />
<line x1="584.60" y1="456.19" x2="580.20" y2="459.09" stroke="#747474" stroke-width="0.85" />
<line x1="584.60" y1="460.77" x2="580.20" y2="463.67" stroke="#747474" stroke-width="0.85" />
<line x1="584.60" y1="465.34" x2="580.20" y2="468.24" stroke="#747474" stroke-width="0.85" />
<line x1="584.60" y1="469.92" x2="580.20" y2="472.82" stroke="#747474" stroke-width="0.85" />
<line x1="584.60" y1="474.50" x2="580.20" y2="477.40" stroke="#747474" stroke-width="0.85" />
<line x1="584.60" y1="479.07" x2="580.20" y2="481.97" stroke="#747474" stroke-width="0.85" />
<line x1="584.60" y1="483.65" x2="580.20" y2="486.55" stroke="#747474" stroke-width="0.85" />
<line x1="584.60" y1="488.22" x2="580.20" y2="491.12" stroke="#747474" stroke-width="0.85" />
<line x1="584.60" y1="125.40" x2="910.80" y2="125.40" stroke="#8f8f8f" stroke-width="0.9" />
<line x1="910.80" y1="122.50" x2="910.80" y2="148.50" stroke="#b0b0b0" stroke-width="1.2" />
<polygon points="584.90,125.40 597.90,123.50 597.90,127.30" fill="#000" stroke="none" stroke-width="0" />
<polygon points="910.60,125.40 897.60,127.30 897.60,123.50" fill="#000" stroke="none" stroke-width="0" />
<text x="0.00" y="0.00" font-size="18" font-weight="normal" text-anchor="middle" fill="#000" stroke="#000" stroke-width="0.35" transform="translate(753.60 121.30) scale(0.87 1)" >A</text>
<line x1="557.10" y1="148.50" x2="557.10" y2="468.20" stroke="#8f8f8f" stroke-width="0.9" />
<line x1="554.00" y1="468.20" x2="586.00" y2="468.20" stroke="#8f8f8f" stroke-width="0.9" />
<polygon points="557.10,148.80 559.00,161.30 555.20,161.30" fill="#000" stroke="none" stroke-width="0" />
<polygon points="557.10,468.00 555.20,455.50 559.00,455.50" fill="#000" stroke="none" stroke-width="0" />
<text x="0.00" y="0.00" font-size="18" font-weight="normal" text-anchor="middle" fill="#000" stroke="#000" stroke-width="0.35" transform="translate(552.60 309.50) rotate(-90) scale(0.87 1)" >B</text>
<line x1="905.50" y1="150.00" x2="905.50" y2="456.00" stroke="#808080" stroke-width="0.85" />
<line x1="908.70" y1="150.00" x2="908.70" y2="456.00" stroke="#808080" stroke-width="0.85" />
<rect x="904.40" y="148.70" width="6.30" height="2.70" fill="#cfcfcf" stroke="#444" stroke-width="0.7" />
<line x1="905.00" y1="151.40" x2="905.00" y2="163.60" stroke="#111" stroke-width="1.3" />
<rect x="908.50" y="154.80" width="2.20" height="8.40" fill="#2a2a2a" stroke="none" stroke-width="0" />
<line x1="910.50" y1="151.40" x2="910.50" y2="158.00" stroke="#555" stroke-width="0.7" />
<line x1="908.70" y1="151.40" x2="908.70" y2="155.00" stroke="#555" stroke-width="0.7" />
<circle cx="907.25" cy="158.25" r="23.35" fill="none" stroke="#000" stroke-width="1.5"/>
<text x="933.20" y="135.80" font-size="18.5" font-weight="bold" text-anchor="middle" fill="#000" stroke="#000" stroke-width="0.5" >W</text>
<rect x="827.30" y="148.60" width="23.40" height="3.60" fill="#fff" stroke="#333" stroke-width="0.9" rx="0.8"/>
<line x1="835.09" y1="157.17" x2="894.09" y2="333.57" stroke="#333" stroke-width="0.9" />
<line x1="842.11" y1="154.83" x2="901.11" y2="331.23" stroke="#333" stroke-width="0.9" />
<circle cx="838.60" cy="156.00" r="3.70" fill="#fff" stroke="#333" stroke-width="0.8"/>
<circle cx="838.60" cy="156.00" r="1.85" fill="none" stroke="#333" stroke-width="0.7"/>
<circle cx="897.60" cy="332.40" r="3.70" fill="#fff" stroke="#333" stroke-width="0.8"/>
<circle cx="897.60" cy="332.40" r="1.85" fill="none" stroke="#333" stroke-width="0.7"/>
<rect x="902.10" y="321.40" width="8.40" height="21.20" fill="#fff" stroke="#333" stroke-width="0.9" />
<rect x="584.60" y="385.20" width="4.20" height="23.50" fill="#fff" stroke="#333" stroke-width="0.9" />
<line x1="589.81" y1="398.31" x2="637.91" y2="458.31" stroke="#333" stroke-width="0.9" />
<line x1="595.59" y1="393.69" x2="643.69" y2="453.69" stroke="#333" stroke-width="0.9" />
<circle cx="592.70" cy="396.00" r="3.70" fill="#fff" stroke="#333" stroke-width="0.8"/>
<circle cx="592.70" cy="396.00" r="1.85" fill="none" stroke="#333" stroke-width="0.7"/>
<circle cx="640.80" cy="456.00" r="3.70" fill="#fff" stroke="#333" stroke-width="0.8"/>
<circle cx="640.80" cy="456.00" r="1.85" fill="none" stroke="#333" stroke-width="0.7"/>
<line x1="585.00" y1="463.40" x2="657.50" y2="463.40" stroke="#8f8f8f" stroke-width="0.9" />
<line x1="585.00" y1="466.70" x2="657.50" y2="466.70" stroke="#8f8f8f" stroke-width="0.9" />
<rect x="630.20" y="460.30" width="20.80" height="8.30" fill="#fff" stroke="#333" stroke-width="0.9" />
<line x1="635.00" y1="469.40" x2="651.00" y2="469.40" stroke="#555" stroke-width="0.8" />
<rect x="585.30" y="462.40" width="2.00" height="6.00" fill="#eee" stroke="#777" stroke-width="0.6" />
<line x1="586.00" y1="462.30" x2="599.50" y2="462.30" stroke="#333" stroke-width="0.9" />
<line x1="586.00" y1="468.00" x2="599.50" y2="468.00" stroke="#333" stroke-width="0.9" />
<line x1="592.00" y1="462.90" x2="599.50" y2="462.90" stroke="#222" stroke-width="1.0" />
<line x1="592.00" y1="467.30" x2="599.50" y2="467.30" stroke="#222" stroke-width="1.0" />
<circle cx="588.80" cy="465.80" r="23.60" fill="none" stroke="#000" stroke-width="1.5"/>
<text x="558.80" y="505.80" font-size="18.5" font-weight="bold" text-anchor="middle" fill="#000" stroke="#000" stroke-width="0.5" >V</text>
<line x1="662.00" y1="459.10" x2="899.00" y2="459.10" stroke="#c4c4c4" stroke-width="1.0" />
<line x1="899.00" y1="459.10" x2="902.20" y2="461.90" stroke="#c4c4c4" stroke-width="0.9" />
<line x1="657.50" y1="463.40" x2="898.00" y2="463.40" stroke="#8f8f8f" stroke-width="0.9" />
<line x1="657.50" y1="466.70" x2="898.00" y2="466.70" stroke="#8f8f8f" stroke-width="0.9" />
<path d="M656.5 466.6 V470.4 A4.0 4.0 0 0 0 664.5 470.9 Q664.9 469.5 666.8 469.4 H687.5 V466.6" fill="none" stroke="#4a4a4a" stroke-width="0.9"/>
<line x1="650.90" y1="466.55" x2="687.50" y2="466.55" stroke="#333" stroke-width="1.0" />
<line x1="685.30" y1="466.60" x2="685.30" y2="469.40" stroke="#666" stroke-width="0.7" />
<rect x="660.10" y="462.10" width="2.70" height="4.50" fill="#222" stroke="none" stroke-width="0" />
<line x1="656.20" y1="462.80" x2="662.80" y2="462.80" stroke="#222" stroke-width="1.3" />
<line x1="662.10" y1="459.10" x2="662.10" y2="465.50" stroke="#999" stroke-width="0.8" />
<path d="M658.4 468 Q659 472.4 662.6 472.2" fill="none" stroke="#aaa" stroke-width="0.6"/>
<rect x="848.00" y="444.40" width="8.80" height="41.00" fill="#fff" stroke="#777" stroke-width="0.9" />
<line x1="848.00" y1="459.00" x2="856.80" y2="459.00" stroke="#bdbdbd" stroke-width="0.8" />
<line x1="848.00" y1="463.60" x2="856.80" y2="463.60" stroke="#8f8f8f" stroke-width="0.9" />
<line x1="848.00" y1="466.70" x2="856.80" y2="466.70" stroke="#8f8f8f" stroke-width="0.9" />
<path d="M905.1 454.9 V466.4 M909.0 454.9 V467.2" fill="none" stroke="#0a0a0a" stroke-width="1.6"/>
<line x1="897.10" y1="466.70" x2="910.00" y2="466.70" stroke="#0a0a0a" stroke-width="1.4" />
<line x1="897.10" y1="463.30" x2="902.80" y2="463.30" stroke="#0a0a0a" stroke-width="1.3" />
<line x1="902.60" y1="462.60" x2="902.60" y2="467.20" stroke="#0a0a0a" stroke-width="0.9" />
<line x1="905.10" y1="460.40" x2="909.00" y2="460.40" stroke="#0a0a0a" stroke-width="1.0" />
<circle cx="906.50" cy="464.40" r="1.90" fill="#000" stroke="#000" stroke-width="0.4"/>
<polygon points="906.00,461.20 908.20,461.20 908.20,463.40" fill="#bbb" stroke="none" stroke-width="0" />
<line x1="587.50" y1="467.00" x2="587.50" y2="513.50" stroke="#8f8f8f" stroke-width="0.9" />
<line x1="659.80" y1="470.00" x2="659.80" y2="513.50" stroke="#8f8f8f" stroke-width="0.9" />
<line x1="662.80" y1="470.00" x2="662.80" y2="513.50" stroke="#8f8f8f" stroke-width="0.9" />
<line x1="902.30" y1="467.00" x2="902.30" y2="513.50" stroke="#b8b8b8" stroke-width="1.1" />
<line x1="587.50" y1="510.70" x2="659.80" y2="510.70" stroke="#8f8f8f" stroke-width="0.9" />
<line x1="662.80" y1="510.70" x2="902.50" y2="510.70" stroke="#8f8f8f" stroke-width="0.9" />
<polygon points="587.70,510.70 600.20,508.80 600.20,512.60" fill="#000" stroke="none" stroke-width="0" />
<polygon points="659.60,510.70 647.10,512.60 647.10,508.80" fill="#000" stroke="none" stroke-width="0" />
<polygon points="663.00,510.70 675.50,508.80 675.50,512.60" fill="#000" stroke="none" stroke-width="0" />
<polygon points="902.30,510.70 889.80,512.60 889.80,508.80" fill="#000" stroke="none" stroke-width="0" />
<text x="0.00" y="0.00" font-size="18" font-weight="normal" text-anchor="middle" fill="#000" stroke="#000" stroke-width="0.35" transform="translate(622.00 506.40) scale(0.85 1)" >C</text>
<text x="0.00" y="0.00" font-size="18" font-weight="normal" text-anchor="middle" fill="#000" stroke="#000" stroke-width="0.35" transform="translate(775.30 506.40) scale(0.95 1)" >D</text>
</g>
<g id="dw">
<text x="870.00" y="577.40" font-size="27.3" font-weight="bold" text-anchor="middle" fill="#000" stroke="#000" stroke-width="0.7" >W</text>
<line x1="739.00" y1="633.20" x2="929.00" y2="633.20" stroke="#8a8a8a" stroke-width="0.9" />
<line x1="751.40" y1="633.20" x2="764.60" y2="615.10" stroke="#777" stroke-width="0.8" />
<line x1="769.60" y1="633.20" x2="782.80" y2="615.10" stroke="#777" stroke-width="0.8" />
<line x1="788.70" y1="633.20" x2="801.90" y2="615.10" stroke="#777" stroke-width="0.8" />
<line x1="806.80" y1="633.20" x2="820.00" y2="615.10" stroke="#777" stroke-width="0.8" />
<line x1="847.20" y1="633.20" x2="860.40" y2="615.10" stroke="#777" stroke-width="0.8" />
<line x1="860.60" y1="633.20" x2="873.80" y2="615.10" stroke="#777" stroke-width="0.8" />
<line x1="878.60" y1="633.20" x2="891.80" y2="615.10" stroke="#777" stroke-width="0.8" />
<line x1="825.00" y1="633.20" x2="831.60" y2="624.40" stroke="#777" stroke-width="0.8" />
<polygon points="838.40,583.80 833.95,587.90 833.25,593.70 834.05,594.10 833.25,598.90 834.05,599.30 833.25,604.80 834.05,605.20 833.25,610.90 834.05,611.30 833.65,616.90 843.15,616.90 842.75,611.30 843.55,610.90 842.75,605.20 843.55,604.80 842.75,599.30 843.55,598.90 842.75,594.10 843.55,593.70 842.85,587.90 838.40,583.80" fill="#fff" stroke="#7d7d7d" stroke-width="0.75" />
<line x1="833.80" y1="587.90" x2="843.00" y2="587.90" stroke="#8a8a8a" stroke-width="0.75" />
<line x1="833.80" y1="594.10" x2="843.00" y2="594.10" stroke="#8a8a8a" stroke-width="0.75" />
<line x1="833.80" y1="599.30" x2="843.00" y2="599.30" stroke="#8a8a8a" stroke-width="0.75" />
<line x1="833.80" y1="605.20" x2="843.00" y2="605.20" stroke="#8a8a8a" stroke-width="0.75" />
<line x1="833.80" y1="611.30" x2="843.00" y2="611.30" stroke="#8a8a8a" stroke-width="0.75" />
<line x1="837.65" y1="584.60" x2="837.65" y2="616.90" stroke="#8a8a8a" stroke-width="0.7" />
<line x1="839.15" y1="584.60" x2="839.15" y2="616.90" stroke="#8a8a8a" stroke-width="0.7" />
<polygon points="833.40,616.90 832.65,617.70 832.65,627.40 833.50,628.30 834.40,628.30 834.40,632.10 842.40,632.10 842.40,628.30 843.30,628.30 844.15,627.40 844.15,617.70 843.40,616.90" fill="#fff" stroke="#7d7d7d" stroke-width="0.75" />
<line x1="834.40" y1="617.40" x2="834.40" y2="628.30" stroke="#9a9a9a" stroke-width="0.7" />
<line x1="842.40" y1="617.40" x2="842.40" y2="628.30" stroke="#9a9a9a" stroke-width="0.7" />
<polygon points="831.20,632.10 830.70,632.80 830.70,634.00 831.40,634.50 845.40,634.50 846.10,634.00 846.10,632.80 845.60,632.10" fill="#c4c4c4" stroke="#666" stroke-width="0.7" />
<polyline points="826.40,633.20 826.40,688.50 827.60,690.30 829.80,690.30 829.80,687.00" fill="none" stroke="#8a8a8a" stroke-width="0.8" />
<line x1="828.70" y1="635.20" x2="828.70" y2="672.00" stroke="#8a8a8a" stroke-width="0.7" />
<polyline points="853.70,633.20 853.70,690.50 846.20,690.50" fill="none" stroke="#8a8a8a" stroke-width="0.8" />
<line x1="851.90" y1="635.20" x2="851.90" y2="663.00" stroke="#8a8a8a" stroke-width="0.7" />
<rect x="829.40" y="636.00" width="22.40" height="6.80" fill="#fff" stroke="#8a8a8a" stroke-width="0.8" rx="1.6"/>
<path d="M833.6 636.2 H843.2 A4.8 4.6 0 0 1 833.6 636.2 Z" fill="#e4e4e4" stroke="#8a8a8a" stroke-width="0.7"/>
<line x1="828.70" y1="644.50" x2="851.90" y2="644.50" stroke="#8a8a8a" stroke-width="0.8" />
<polyline points="829.60,668.00 829.60,646.50 831.00,645.40 850.00,645.40 851.20,646.50 851.20,663.00" fill="none" stroke="#b5b5b5" stroke-width="0.6" />
<path d="M828.8 654.4 q1.8 1.2 0 2.6 M851.8 654.2 h-3.4 q-1.4 1.3 0 2.6 h3.4" fill="none" stroke="#8a8a8a" stroke-width="0.7"/>
<polyline points="830.60,667.00 829.00,680.00 828.00,688.80 829.60,689.60 830.60,682.00" fill="none" stroke="#777" stroke-width="0.7" />
<polyline points="829.80,666.20 831.40,666.20" fill="none" stroke="#8a8a8a" stroke-width="0.7" />
<polyline points="851.80,663.40 846.00,663.40 846.00,691.50" fill="none" stroke="#333" stroke-width="1.0" />
<polyline points="847.40,667.60 850.60,667.60 851.40,669.20 850.40,670.60 847.60,670.60 847.60,686.40 850.80,686.40 851.20,688.40 847.00,688.60" fill="none" stroke="#555" stroke-width="0.8" />
<line x1="849.80" y1="671.00" x2="849.80" y2="686.00" stroke="#aaa" stroke-width="0.6" />
<line x1="848.20" y1="677.00" x2="851.00" y2="677.00" stroke="#aaa" stroke-width="0.6" />
<line x1="848.20" y1="680.50" x2="851.00" y2="680.50" stroke="#aaa" stroke-width="0.6" />
<line x1="853.70" y1="643.90" x2="902.00" y2="643.90" stroke="#8a8a8a" stroke-width="0.8" />
<line x1="853.70" y1="668.40" x2="902.00" y2="668.40" stroke="#8a8a8a" stroke-width="0.8" />
<line x1="853.70" y1="690.50" x2="929.00" y2="690.50" stroke="#8a8a8a" stroke-width="0.8" />
<line x1="898.20" y1="619.80" x2="898.20" y2="783.50" stroke="#aaa" stroke-width="0.9" />
<line x1="925.40" y1="633.20" x2="925.40" y2="760.00" stroke="#aaa" stroke-width="0.9" />
<polygon points="898.20,643.70 896.30,632.20 900.10,632.20" fill="#000" stroke="none" stroke-width="0" />
<polygon points="898.20,668.60 900.10,680.10 896.30,680.10" fill="#000" stroke="none" stroke-width="0" />
<polygon points="925.40,633.40 927.30,644.90 923.50,644.90" fill="#000" stroke="none" stroke-width="0" />
<polygon points="925.40,690.30 923.50,678.80 927.30,678.80" fill="#000" stroke="none" stroke-width="0" />
<text x="0.00" y="0.00" font-size="22.8" font-weight="normal" text-anchor="start" fill="#111" stroke="#111" stroke-width="0.25" transform="translate(895.60 782.00) rotate(-90) scale(0.967 1)" >0-15</text>
<text x="0.00" y="0.00" font-size="22.8" font-weight="normal" text-anchor="start" fill="#111" stroke="#111" stroke-width="0.25" transform="translate(923.60 759.60) rotate(-90) scale(0.967 1)" >35</text>
<line x1="759.20" y1="705.80" x2="877.50" y2="705.80" stroke="#8a8a8a" stroke-width="0.8" />
<line x1="826.40" y1="690.00" x2="826.40" y2="709.00" stroke="#aaa" stroke-width="0.8" />
<line x1="853.70" y1="690.50" x2="853.70" y2="709.00" stroke="#aaa" stroke-width="0.8" />
<polygon points="826.20,705.80 814.70,707.70 814.70,703.90" fill="#000" stroke="none" stroke-width="0" />
<polygon points="853.90,705.80 865.40,703.90 865.40,707.70" fill="#000" stroke="none" stroke-width="0" />
<text x="0.00" y="0.00" font-size="22.8" font-weight="normal" text-anchor="start" fill="#111" stroke="#111" stroke-width="0.25" transform="translate(758.80 704.00) scale(0.967 1)" >16.3</text>
<line x1="786.40" y1="734.40" x2="869.00" y2="734.40" stroke="#8a8a8a" stroke-width="0.8" />
<polygon points="831.40,734.40 819.90,736.30 819.90,732.50" fill="#000" stroke="none" stroke-width="0" />
<polygon points="845.50,734.40 857.00,732.50 857.00,736.30" fill="#000" stroke="none" stroke-width="0" />
<text x="0.00" y="0.00" font-size="22.8" font-weight="normal" text-anchor="start" fill="#111" stroke="#111" stroke-width="0.25" transform="translate(787.20 732.00) scale(0.967 1)" >8</text>
<path d="M831.5 668.5 H845.3 V747.6 Q845.3 750.6 841.6 750.6 H839.2 Q831.5 749.6 831.5 741.5 Z" fill="#bffefe" stroke="#a5d4d4" stroke-width="0.5"/>
</g>
<g id="dv">
<text x="631.20" y="781.80" font-size="27.3" font-weight="bold" text-anchor="middle" fill="#000" stroke="#000" stroke-width="0.7" >V</text>
<line x1="693.40" y1="741.20" x2="693.40" y2="941.00" stroke="#8a8a8a" stroke-width="0.9" />
<line x1="693.40" y1="752.90" x2="675.20" y2="766.10" stroke="#777" stroke-width="0.8" />
<line x1="693.40" y1="771.60" x2="675.20" y2="784.80" stroke="#777" stroke-width="0.8" />
<line x1="693.40" y1="790.60" x2="675.20" y2="803.80" stroke="#777" stroke-width="0.8" />
<line x1="693.40" y1="808.80" x2="675.20" y2="822.00" stroke="#777" stroke-width="0.8" />
<line x1="693.40" y1="848.80" x2="675.20" y2="862.00" stroke="#777" stroke-width="0.8" />
<line x1="693.40" y1="862.50" x2="675.20" y2="875.70" stroke="#777" stroke-width="0.8" />
<line x1="693.40" y1="880.60" x2="675.20" y2="893.80" stroke="#777" stroke-width="0.8" />
<line x1="693.40" y1="826.40" x2="684.60" y2="833.00" stroke="#777" stroke-width="0.8" />
<polygon points="644.10,840.35 648.20,835.90 654.00,835.20 654.40,836.00 659.20,835.20 659.60,836.00 665.10,835.20 665.50,836.00 671.20,835.20 671.60,836.00 677.20,835.60 677.20,845.10 671.60,844.70 671.20,845.50 665.50,844.70 665.10,845.50 659.60,844.70 659.20,845.50 654.40,844.70 654.00,845.50 648.20,844.80 644.10,840.35" fill="#fff" stroke="#7d7d7d" stroke-width="0.75" />
<line x1="648.20" y1="835.75" x2="648.20" y2="844.95" stroke="#8a8a8a" stroke-width="0.75" />
<line x1="654.40" y1="835.75" x2="654.40" y2="844.95" stroke="#8a8a8a" stroke-width="0.75" />
<line x1="659.60" y1="835.75" x2="659.60" y2="844.95" stroke="#8a8a8a" stroke-width="0.75" />
<line x1="665.50" y1="835.75" x2="665.50" y2="844.95" stroke="#8a8a8a" stroke-width="0.75" />
<line x1="671.60" y1="835.75" x2="671.60" y2="844.95" stroke="#8a8a8a" stroke-width="0.75" />
<line x1="644.90" y1="839.60" x2="677.20" y2="839.60" stroke="#8a8a8a" stroke-width="0.7" />
<line x1="644.90" y1="841.10" x2="677.20" y2="841.10" stroke="#8a8a8a" stroke-width="0.7" />
<polygon points="677.20,835.35 678.00,834.60 687.70,834.60 688.60,835.45 688.60,836.35 692.40,836.35 692.40,844.35 688.60,844.35 688.60,845.25 687.70,846.10 678.00,846.10 677.20,845.35" fill="#fff" stroke="#7d7d7d" stroke-width="0.75" />
<line x1="677.70" y1="836.35" x2="688.60" y2="836.35" stroke="#9a9a9a" stroke-width="0.7" />
<line x1="677.70" y1="844.35" x2="688.60" y2="844.35" stroke="#9a9a9a" stroke-width="0.7" />
<polygon points="692.40,833.15 693.10,832.65 694.30,832.65 694.80,833.35 694.80,847.35 694.30,848.05 693.10,848.05 692.40,847.55" fill="#c4c4c4" stroke="#666" stroke-width="0.7" />
<polyline points="693.40,828.80 750.60,828.80 751.80,827.80 752.20,830.20 748.60,832.40" fill="none" stroke="#8a8a8a" stroke-width="0.8" />
<line x1="695.40" y1="831.00" x2="738.00" y2="831.00" stroke="#8a8a8a" stroke-width="0.7" />
<polyline points="693.40,855.10 752.30,855.10 752.30,848.20" fill="none" stroke="#8a8a8a" stroke-width="0.8" />
<line x1="695.40" y1="853.30" x2="724.00" y2="853.30" stroke="#8a8a8a" stroke-width="0.7" />
<rect x="696.20" y="831.60" width="6.80" height="21.40" fill="#fff" stroke="#8a8a8a" stroke-width="0.8" rx="1.6"/>
<path d="M696.4 835.8 V845.2 A4.6 4.8 0 0 0 696.4 835.8 Z" fill="#e4e4e4" stroke="#8a8a8a" stroke-width="0.7"/>
<line x1="704.60" y1="831.00" x2="704.60" y2="853.30" stroke="#8a8a8a" stroke-width="0.8" />
<polyline points="728.00,832.20 706.60,832.20 705.60,833.40 705.60,851.00 706.60,852.40 724.00,852.40" fill="none" stroke="#b5b5b5" stroke-width="0.6" />
<path d="M714.4 831.2 q1.3 1.8 2.6 0 M714.2 853.2 v-3.2 q1.3 -1.4 2.6 0 v3.2" fill="none" stroke="#8a8a8a" stroke-width="0.7"/>
<polyline points="727.40,832.60 740.00,831.20 748.80,830.00 749.60,831.60 742.00,832.80" fill="none" stroke="#777" stroke-width="0.7" />
<polyline points="724.00,853.60 724.00,848.00 752.00,848.00" fill="none" stroke="#333" stroke-width="1.0" />
<polyline points="728.00,849.40 728.00,852.60 729.60,853.40 731.00,852.40 731.00,849.60 746.80,849.60 746.80,852.80 748.80,853.20 749.00,849.00" fill="none" stroke="#555" stroke-width="0.8" />
<line x1="731.40" y1="851.80" x2="746.40" y2="851.80" stroke="#aaa" stroke-width="0.6" />
<line x1="737.40" y1="850.20" x2="737.40" y2="853.00" stroke="#aaa" stroke-width="0.6" />
<line x1="741.00" y1="850.20" x2="741.00" y2="853.00" stroke="#aaa" stroke-width="0.6" />
<line x1="704.40" y1="855.10" x2="704.40" y2="911.00" stroke="#aaa" stroke-width="0.8" />
<line x1="729.40" y1="855.10" x2="729.40" y2="911.00" stroke="#aaa" stroke-width="0.8" />
<line x1="751.70" y1="855.10" x2="751.70" y2="941.00" stroke="#aaa" stroke-width="0.8" />
<line x1="615.30" y1="907.40" x2="752.80" y2="907.40" stroke="#8a8a8a" stroke-width="0.8" />
<polygon points="704.60,907.40 693.10,909.30 693.10,905.50" fill="#000" stroke="none" stroke-width="0" />
<polygon points="729.20,907.40 740.70,905.50 740.70,909.30" fill="#000" stroke="none" stroke-width="0" />
<text x="0.00" y="0.00" font-size="22.8" font-weight="normal" text-anchor="start" fill="#111" stroke="#111" stroke-width="0.25" transform="translate(616.60 905.00) scale(0.967 1)" >0-15</text>
<line x1="624.30" y1="937.40" x2="751.70" y2="937.40" stroke="#8a8a8a" stroke-width="0.8" />
<polygon points="693.60,937.40 705.10,935.50 705.10,939.30" fill="#000" stroke="none" stroke-width="0" />
<polygon points="751.50,937.40 740.00,939.30 740.00,935.50" fill="#000" stroke="none" stroke-width="0" />
<text x="0.00" y="0.00" font-size="22.8" font-weight="normal" text-anchor="start" fill="#111" stroke="#111" stroke-width="0.25" transform="translate(624.80 935.00) scale(0.967 1)" >35</text>
<line x1="693.40" y1="828.80" x2="770.80" y2="828.80" stroke="#aaa" stroke-width="0.8" />
<line x1="745.00" y1="855.10" x2="770.80" y2="855.10" stroke="#aaa" stroke-width="0.8" />
<line x1="766.20" y1="761.40" x2="766.20" y2="879.50" stroke="#8a8a8a" stroke-width="0.8" />
<polygon points="766.20,828.60 764.30,817.10 768.10,817.10" fill="#000" stroke="none" stroke-width="0" />
<polygon points="766.20,855.30 768.10,866.80 764.30,866.80" fill="#000" stroke="none" stroke-width="0" />
<text x="0.00" y="0.00" font-size="22.8" font-weight="normal" text-anchor="start" fill="#111" stroke="#111" stroke-width="0.25" transform="translate(764.80 805.00) rotate(-90) scale(0.967 1)" >16.3</text>
<line x1="794.90" y1="788.80" x2="794.90" y2="870.50" stroke="#8a8a8a" stroke-width="0.8" />
<polygon points="794.90,833.40 793.00,821.90 796.80,821.90" fill="#000" stroke="none" stroke-width="0" />
<polygon points="794.90,847.60 796.80,859.10 793.00,859.10" fill="#000" stroke="none" stroke-width="0" />
<text x="0.00" y="0.00" font-size="22.8" font-weight="normal" text-anchor="start" fill="#111" stroke="#111" stroke-width="0.25" transform="translate(793.40 802.10) rotate(-90) scale(0.967 1)" >8</text>
<path d="M728.6 833.8 H804.4 Q811.4 835.6 811.4 842.2 V844.6 Q811.4 847.2 808.6 847.2 H728.6 Z" fill="#bffefe" stroke="#a5d4d4" stroke-width="0.5"/>
</g>
</svg>
</body>
</html>
